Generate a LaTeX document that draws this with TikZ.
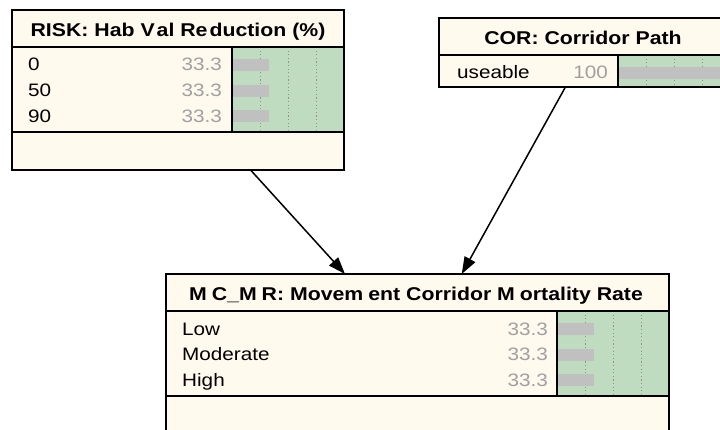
\documentclass[tikz,border=0pt]{standalone}
\usepackage{fontspec}
\setmainfont{Liberation Sans}[FakeStretch=1.15]
\usetikzlibrary{arrows.meta}

\definecolor{nodefill}{HTML}{FFF9EE}
\definecolor{beliefgreen}{HTML}{C0DCC0}
\definecolor{bargray}{HTML}{C0C0C0}
\definecolor{numgray}{HTML}{A0A0A0}
\definecolor{gridgray}{HTML}{909090}

\tikzset{
  bnnode/.style={draw=black, fill=nodefill, line width=1.8pt, inner sep=0pt,
    outer sep=0pt, anchor=north west},
  sepline/.style={line width=1.5pt, black},
  panelframe/.style={line width=1.8pt, black},
  gridline/.style={gridgray, line width=0.9pt, dash pattern=on 1.2pt off 2.4pt},
  titletext/.style={anchor=base, inner sep=0pt,
    font=\fontsize{18.5}{21}\selectfont\bfseries},
  statetext/.style={anchor=base west, inner sep=0pt, font=\fontsize{18}{21}\selectfont},
  probtext/.style={anchor=base east, inner sep=0pt, text=numgray,
    font=\fontsize{18}{21}\selectfont},
  link/.style={line width=1.5pt, -{Triangle[length=17pt,width=12pt]}}
}

% belief panel: #1 left x, #2 top y, #3 bottom y (panel is 112 wide)
\newcommand\beliefpanel[3]{%
  \fill[beliefgreen] (#1,#2) rectangle ({#1+112},#3);
  \foreach \f in {0.25,0.5,0.75}
    \draw[gridline] ({#1+112*\f},#2) -- ({#1+112*\f},#3);
}
% belief bar: #1 left x, #2 baseline y, #3 percentage
\newcommand\beliefbar[3]{%
  \fill[bargray] (#1,{#2-12}) rectangle ({#1+1.12*#3},#2);
}

\begin{document}
\begin{tikzpicture}[x=1pt,y=-1pt]
\useasboundingbox (0,0) rectangle (720,430);
\clip (0,0) rectangle (720,430);
\fill[white] (0,0) rectangle (720,430);

% ---- RISK node ----
\node[bnnode, minimum width=332pt, minimum height=160pt] (risk) at (12,10) {};
\node[titletext] (risktitle) at (178,37)
  {RISK: Hab V\kern2pt al Re\kern2pt duction (\%)};
\beliefpanel{232}{47}{132}
\beliefbar{232}{71}{33.3}
\beliefbar{232}{96.7}{33.3}
\beliefbar{232}{122.4}{33.3}
\draw[sepline] (12,47) -- (344,47);
\draw[sepline] (12,132) -- (232,132);
\draw[panelframe] (232,47) rectangle (344,132);
\node[statetext] (risk0)  at (28,71)    {0};
\node[statetext] (risk50) at (28,96.7)  {50};
\node[statetext] (risk90) at (28,122.4) {90};
\node[probtext] (riskp0)  at (222,71)    {33.3};
\node[probtext] (riskp50) at (222,96.7)  {33.3};
\node[probtext] (riskp90) at (222,122.4) {33.3};

% ---- COR node ----
\node[bnnode, minimum width=291pt, minimum height=69pt] (cor) at (439,18) {};
\node[titletext] (cortitle) at (583,45) {COR: Corridor Path};
\beliefpanel{618}{55}{87}
\beliefbar{618}{79}{100}
\draw[sepline] (439,55) -- (730,55);
\draw[panelframe] (618,55) rectangle (730,87);
\node[statetext] (coruse) at (457,79) {useable};
\node[probtext] (corp) at (608,79) {100};

% ---- MC_MR node ----
\node[bnnode, minimum width=503pt, minimum height=160pt] (mcmr) at (166,274) {};
\node[titletext] (mcmrtitle) at (416,301)
  {M\kern5pt C\_M\kern5pt R: Movem\kern5pt ent Corridor M\kern5pt ortality Rate};
\beliefpanel{557}{311}{396}
\beliefbar{557}{335}{33.3}
\beliefbar{557}{360.7}{33.3}
\beliefbar{557}{386.4}{33.3}
\draw[sepline] (166,311) -- (669,311);
\draw[sepline] (166,396) -- (557,396);
\draw[panelframe] (557,311) rectangle (669,396);
\node[statetext] (mlow)  at (182,335)   {Low};
\node[statetext] (mmod)  at (182,360.7) {Moderate};
\node[statetext] (mhigh) at (182,386.4) {High};
\node[probtext] (mplow)  at (548,335)   {33.3};
\node[probtext] (mpmod)  at (548,360.7) {33.3};
\node[probtext] (mphigh) at (548,386.4) {33.3};

% ---- links ----
\draw[link] (risk) -- (mcmr);
\draw[link] (cor) -- (mcmr);
\end{tikzpicture}
\end{document}
